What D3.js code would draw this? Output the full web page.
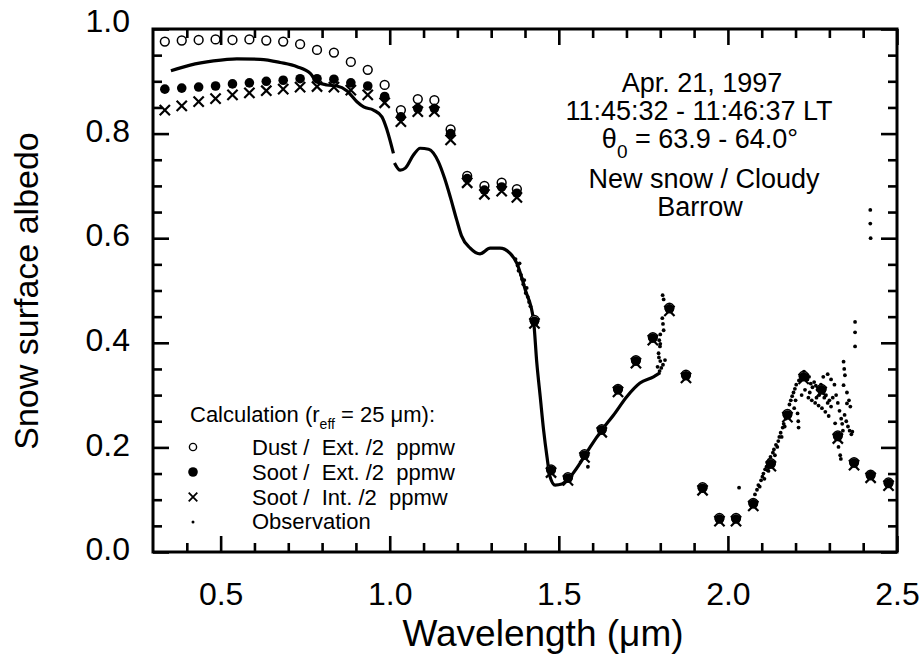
<!DOCTYPE html>
<html>
<head>
<meta charset="utf-8">
<script src="https://cdn.jsdelivr.net/npm/d3@7"></script>
<style>
  body { margin: 0; background: #fff; }
  text { font-family: "Liberation Sans", Arial, Helvetica, sans-serif; fill: #000; }
</style>
</head>
<body>
<div id="chart"></div>
<script>
// Calculated albedo wavelengths (um), same grid for the three calculations
var calcWl = [0.335, 0.385, 0.435, 0.485, 0.535, 0.585, 0.635, 0.685, 0.735, 0.785, 0.835, 0.885, 0.935, 0.985,
  1.033, 1.083, 1.132, 1.180, 1.229, 1.280, 1.331, 1.376,
  1.428, 1.477, 1.527, 1.576, 1.627, 1.675, 1.728, 1.778, 1.827, 1.876, 1.925,
  1.975, 2.024, 2.075, 2.127, 2.176, 2.224, 2.277, 2.325, 2.373, 2.422, 2.475];

// Dust / Ext. /2 ppmw (open circles)
var dustExt = [0.976, 0.978, 0.979, 0.980, 0.979, 0.980, 0.978, 0.976, 0.971, 0.960, 0.955, 0.937, 0.922, 0.893,
  0.845, 0.866, 0.864, 0.808, 0.719, 0.700, 0.706, 0.694,
  0.444, 0.158, 0.143, 0.187, 0.235, 0.312, 0.367, 0.411, 0.467, 0.339, 0.124,
  0.065, 0.065, 0.094, 0.170, 0.264, 0.337, 0.312, 0.223, 0.172, 0.148, 0.133];

// Soot / Ext. /2 ppmw (filled circles)
var sootExt = [0.885, 0.887, 0.889, 0.891, 0.895, 0.897, 0.900, 0.902, 0.905, 0.905, 0.904, 0.897, 0.891, 0.871,
  0.832, 0.848, 0.848, 0.800, 0.714, 0.692, 0.698, 0.686,
  0.441, 0.156, 0.141, 0.185, 0.233, 0.310, 0.365, 0.409, 0.465, 0.337, 0.122,
  0.063, 0.063, 0.092, 0.168, 0.262, 0.335, 0.310, 0.221, 0.170, 0.146, 0.131];

// Soot / Int. /2 ppmw (crosses)
var sootInt = [0.845, 0.853, 0.861, 0.867, 0.874, 0.878, 0.882, 0.885, 0.889, 0.890, 0.889, 0.883, 0.874, 0.859,
  0.823, 0.842, 0.842, 0.788, 0.706, 0.684, 0.690, 0.678,
  0.437, 0.152, 0.137, 0.181, 0.229, 0.306, 0.361, 0.405, 0.461, 0.333, 0.118,
  0.059, 0.059, 0.088, 0.164, 0.258, 0.331, 0.306, 0.217, 0.166, 0.142, 0.127];

// Observation, dense part seen as a line: visible band
var obsWlA  = [0.353, 0.410, 0.479, 0.548, 0.617, 0.676, 0.726, 0.765, 0.785, 0.814, 0.844, 0.873, 0.903, 0.923, 0.952, 0.977, 0.992, 1.011];
var obsAlbA = [0.920, 0.931, 0.939, 0.943, 0.942, 0.936, 0.928, 0.915, 0.899, 0.893, 0.891, 0.882, 0.861, 0.851, 0.845, 0.832, 0.807, 0.762];

// Observation, near-infrared band
var obsWlB  = [1.014, 1.031, 1.046, 1.070, 1.090, 1.115, 1.144, 1.162, 1.179, 1.198, 1.212, 1.238, 1.267, 1.297, 1.326, 1.356, 1.376,
  1.401, 1.425, 1.435, 1.445, 1.455, 1.465, 1.474, 1.489, 1.509, 1.534, 1.563, 1.593, 1.627, 1.662, 1.701, 1.740, 1.780, 1.800];
var obsAlbB = [0.744, 0.730, 0.734, 0.759, 0.772, 0.770, 0.746, 0.715, 0.679, 0.635, 0.605, 0.581, 0.570, 0.581, 0.581, 0.571, 0.552,
  0.501, 0.444, 0.361, 0.297, 0.233, 0.182, 0.144, 0.128, 0.130, 0.144, 0.170, 0.201, 0.233, 0.262, 0.297, 0.323, 0.335, 0.343];

// Observation, scattered points [wavelength, albedo]
var obsScatter = [
  [1.372, 0.560], [1.378, 0.548], [1.381, 0.538], [1.384, 0.552], [1.388, 0.530], [1.391, 0.522], [1.395, 0.512],
  [1.398, 0.520], [1.402, 0.495], [1.405, 0.505], [1.408, 0.488], [1.412, 0.478], [1.416, 0.470], [1.586, 0.163],
  [1.807, 0.491], [1.810, 0.483], [1.806, 0.447], [1.808, 0.436], [1.810, 0.424], [1.800, 0.416], [1.797, 0.405],
  [1.800, 0.398], [1.799, 0.393], [1.795, 0.380], [1.796, 0.372], [1.814, 0.367], [1.800, 0.365], [1.808, 0.358],
  [1.803, 0.352], [1.792, 0.354], [1.798, 0.346],
  [2.033, 0.123], [2.080, 0.110], [2.086, 0.119], [2.090, 0.128], [2.094, 0.125], [2.098, 0.137], [2.102, 0.144],
  [2.105, 0.150], [2.108, 0.140], [2.110, 0.158], [2.114, 0.163], [2.117, 0.170], [2.120, 0.155], [2.122, 0.176],
  [2.126, 0.182], [2.130, 0.175], [2.133, 0.190], [2.136, 0.196], [2.139, 0.185], [2.142, 0.205], [2.146, 0.201],
  [2.149, 0.212], [2.152, 0.220], [2.156, 0.228], [2.159, 0.220], [2.162, 0.238], [2.165, 0.245], [2.168, 0.240],
  [2.171, 0.255], [2.174, 0.263], [2.178, 0.270], [2.182, 0.282], [2.186, 0.290], [2.190, 0.298], [2.194, 0.305],
  [2.198, 0.312], [2.202, 0.320], [2.206, 0.265], [2.208, 0.250], [2.209, 0.238], [2.196, 0.275], [2.200, 0.290],
  [2.210, 0.328], [2.215, 0.335], [2.220, 0.340], [2.225, 0.345], [2.230, 0.338], [2.235, 0.330], [2.240, 0.335],
  [2.245, 0.322], [2.250, 0.315], [2.255, 0.325], [2.260, 0.318], [2.265, 0.310], [2.270, 0.300], [2.275, 0.320],
  [2.280, 0.305], [2.285, 0.295], [2.290, 0.300], [2.295, 0.285], [2.300, 0.290], [2.305, 0.278], [2.310, 0.295],
  [2.218, 0.300], [2.228, 0.310], [2.238, 0.295], [2.248, 0.290], [2.258, 0.285], [2.268, 0.280], [2.278, 0.275],
  [2.288, 0.268], [2.298, 0.260], [2.242, 0.305], [2.262, 0.295], [2.282, 0.335], [2.295, 0.340], [2.305, 0.330],
  [2.315, 0.320], [2.320, 0.300], [2.325, 0.285], [2.330, 0.270], [2.335, 0.255], [2.338, 0.245], [2.340, 0.232],
  [2.317, 0.246], [2.328, 0.215], [2.327, 0.201], [2.332, 0.185], [2.334, 0.178], [2.345, 0.262], [2.350, 0.250],
  [2.355, 0.240], [2.360, 0.232], [2.365, 0.225], [2.368, 0.230], [2.342, 0.364], [2.344, 0.350], [2.346, 0.338],
  [2.342, 0.319], [2.352, 0.305], [2.352, 0.284], [2.358, 0.290], [2.362, 0.278], [2.376, 0.440], [2.376, 0.420],
  [2.376, 0.393], [2.421, 0.654], [2.421, 0.628], [2.422, 0.600]];

// Tick values
var xMinorTicks = [0.4, 0.6, 0.7, 0.8, 0.9, 1.1, 1.2, 1.3, 1.4, 1.6, 1.7, 1.8, 1.9, 2.1, 2.2, 2.3, 2.4];
var xMajorTicks = [0.5, 1.0, 1.5, 2.0, 2.5];
var yMinorTicks = [0.05, 0.1, 0.15, 0.25, 0.3, 0.35, 0.45, 0.5, 0.55, 0.65, 0.7, 0.75, 0.85, 0.9, 0.95];
var yMajorTicks = [0.0, 0.2, 0.4, 0.6, 0.8, 1.0];

var legendLabels = ["Dust /  Ext. /2  ppmw", "Soot /  Ext. /2  ppmw", "Soot /  Int. /2  ppmw", "Observation"];

var svg, xScale, yScale;

function AlbedoChart({
    width = 922,
    height = 657,
    marginTop = 29,
    marginRight = 25,
    marginBottom = 105,
    marginLeft = 153
  } = {}) {

  xScale = d3.scaleLinear([0.3, 2.5], [marginLeft, width - marginRight]);
  yScale = d3.scaleLinear([0, 1], [height - marginBottom, marginTop]);

  svg = d3.select("#chart").append("svg")
      .attr("width", width)
      .attr("height", height)
      .attr("viewBox", [0, 0, width, height]);

  var x0 = marginLeft, x1 = width - marginRight;
  var y0 = height - marginBottom, y1 = marginTop;

  // ticks on all four sides, pointing inward
  function ticks(axisFn, scale, values, len, transform, padding) {
    var ax = axisFn(scale).tickValues(values).tickSizeInner(-len).tickSizeOuter(0)
        .tickPadding(padding || 0)
        .tickFormat(padding ? d3.format(".1f") : "");
    var g = svg.append("g")
        .attr("transform", transform)
        .call(ax)
        .attr("font-family", null)
        .attr("font-size", null);
    g.select(".domain").remove();
    g.selectAll(".tick line").attr("stroke", "#000").attr("stroke-width", 2.6);
    return g;
  }

  ticks(d3.axisBottom, xScale, xMinorTicks, 9, `translate(0,${y0})`);
  ticks(d3.axisTop, xScale, xMinorTicks, 9, `translate(0,${y1})`);
  ticks(d3.axisTop, xScale, xMajorTicks, 16, `translate(0,${y1})`);
  ticks(d3.axisRight, yScale, yMinorTicks, 9, `translate(${x1},0)`);
  ticks(d3.axisRight, yScale, yMajorTicks, 16, `translate(${x1},0)`);
  ticks(d3.axisLeft, yScale, yMinorTicks, 9, `translate(${x0},0)`);

  var xb = ticks(d3.axisBottom, xScale, xMajorTicks, 16, `translate(0,${y0})`, 30);
  xb.selectAll("text").style("font-size", "32px");

  var yl = ticks(d3.axisLeft, yScale, yMajorTicks, 16, `translate(${x0},0)`, 23);
  yl.selectAll("text").style("font-size", "32px").attr("dy", "0.24em");
  yl.selectAll("text").filter(d => d === 1).attr("dy", "0.08em");

  // frame
  svg.append("rect")
      .attr("x", x0).attr("y", y1)
      .attr("width", x1 - x0).attr("height", y0 - y1)
      .attr("fill", "none")
      .attr("stroke", "#000")
      .attr("stroke-width", 3);

  // axis titles
  svg.append("text")
      .attr("x", 543).attr("y", 646)
      .attr("text-anchor", "middle")
      .style("font-size", "37px")
      .text("Wavelength (\u03bcm)");

  svg.append("text")
      .attr("transform", "translate(38,291) rotate(-90)")
      .attr("text-anchor", "middle")
      .style("font-size", "34px")
      .text("Snow surface albedo");

  // observation line
  var line = d3.line().x(d => xScale(d[0])).y(d => yScale(d[1])).curve(d3.curveMonotoneX);
  [[obsWlA, obsAlbA], [obsWlB, obsAlbB]].forEach(([w, a]) => {
    svg.append("path")
        .datum(d3.zip(w, a))
        .attr("fill", "none")
        .attr("stroke", "#000")
        .attr("stroke-width", 3.2)
        .attr("stroke-linejoin", "round")
        .attr("d", line);
  });

  // observation scatter
  svg.append("g").selectAll("circle")
    .data(obsScatter)
    .join("circle")
      .attr("cx", d => xScale(d[0]))
      .attr("cy", d => yScale(d[1]))
      .attr("r", 1.9)
      .attr("fill", "#000");

  // calculations
  svg.append("g").selectAll("circle")
    .data(d3.zip(calcWl, dustExt))
    .join("circle")
      .attr("cx", d => xScale(d[0]))
      .attr("cy", d => yScale(d[1]))
      .attr("r", 4.4)
      .attr("fill", "#fff")
      .attr("stroke", "#000")
      .attr("stroke-width", 1.5);

  svg.append("g").selectAll("circle")
    .data(d3.zip(calcWl, sootExt))
    .join("circle")
      .attr("cx", d => xScale(d[0]))
      .attr("cy", d => yScale(d[1]))
      .attr("r", 4.8)
      .attr("fill", "#000");

  var cross = d3.symbol(d3.symbolX, 70);
  svg.append("g").selectAll("path")
    .data(d3.zip(calcWl, sootInt))
    .join("path")
      .attr("transform", d => `translate(${xScale(d[0])},${yScale(d[1])})`)
      .attr("d", cross)
      .attr("fill", "none")
      .attr("stroke", "#000")
      .attr("stroke-width", 2.2);

  // annotation
  var ann = svg.append("g").attr("text-anchor", "middle").style("font-size", "27px");
  ann.append("text").attr("x", 702).attr("y", 92).text("Apr. 21, 1997");
  ann.append("text").attr("x", 699).attr("y", 120).text("11:45:32 - 11:46:37 LT");
  var th = ann.append("text").attr("x", 700).attr("y", 148);
  th.append("tspan").text("\u03b8");
  th.append("tspan").attr("dy", 10).style("font-size", "19px").text("0");
  th.append("tspan").attr("dy", -10).text(" = 63.9 - 64.0\u00b0");
  ann.append("text").attr("x", 704).attr("y", 188).text("New snow / Cloudy");
  ann.append("text").attr("x", 700).attr("y", 216).text("Barrow");

  // legend
  var leg = svg.append("g").style("font-size", "22px");
  var lt = leg.append("text").attr("x", 190).attr("y", 422);
  lt.append("tspan").text("Calculation (r");
  lt.append("tspan").attr("dy", 7).style("font-size", "14px").text("eff");
  lt.append("tspan").attr("dy", -7).text(" = 25 \u03bcm):");

  var rowY = [455, 480, 505, 529];
  leg.selectAll("text.row")
    .data(legendLabels)
    .join("text")
      .attr("class", "row")
      .attr("x", 252)
      .attr("y", (d, i) => rowY[i])
      .style("white-space", "pre")
      .text(d => d);

  var sx = 193;
  leg.append("circle").attr("cx", sx).attr("cy", rowY[0] - 8).attr("r", 3.6)
      .attr("fill", "none").attr("stroke", "#000").attr("stroke-width", 1.4);
  leg.append("circle").attr("cx", sx).attr("cy", rowY[1] - 8).attr("r", 4.8).attr("fill", "#000");
  leg.append("path").attr("transform", `translate(${sx},${rowY[2] - 8})`)
      .attr("d", d3.symbol(d3.symbolX, 50)).attr("stroke", "#000").attr("stroke-width", 1.8);
  leg.append("circle").attr("cx", sx).attr("cy", rowY[3] - 7).attr("r", 1.5).attr("fill", "#000");

  return svg.node();
}

function init() {
  AlbedoChart();
}

window.onload = init;
</script>
</body>
</html>
